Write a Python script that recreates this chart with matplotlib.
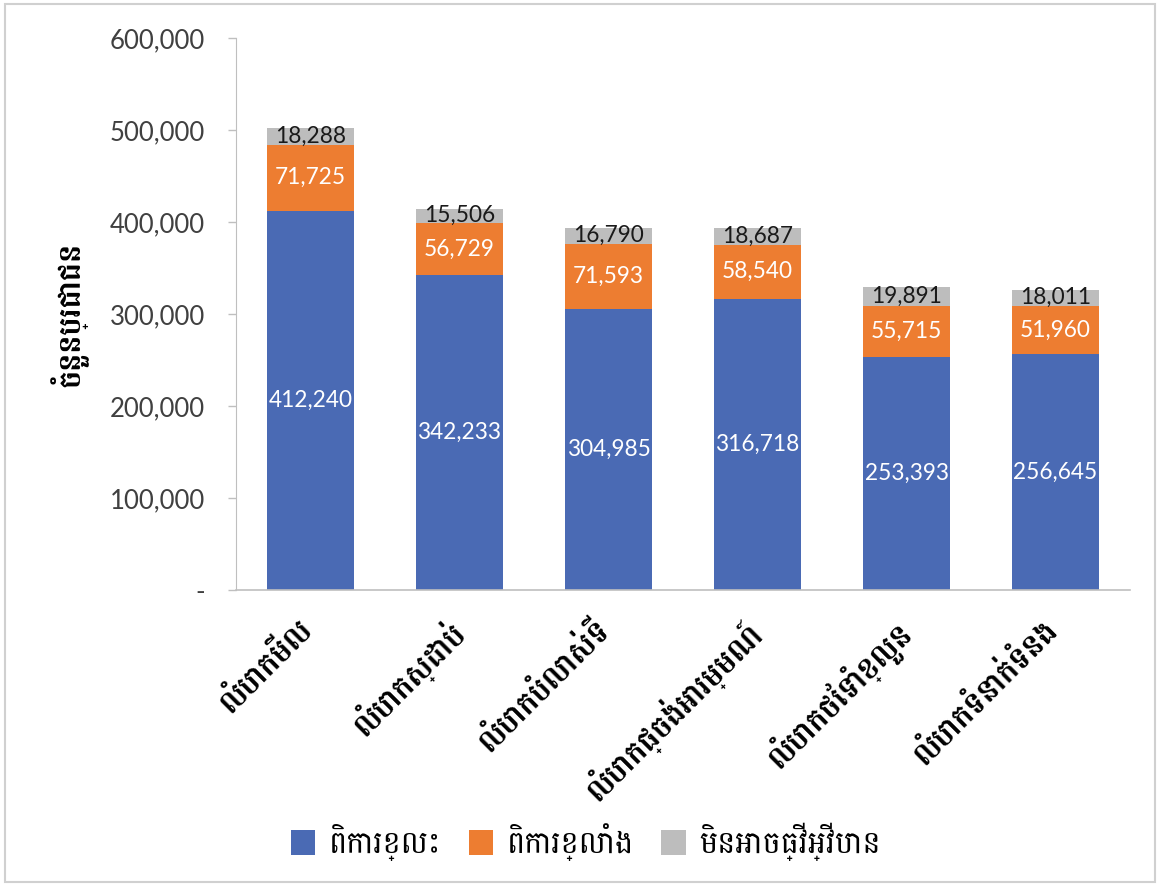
import matplotlib
matplotlib.use("Agg")
import matplotlib.pyplot as plt
import matplotlib.transforms as mtransforms
from matplotlib.patches import Rectangle
from matplotlib.ticker import FuncFormatter

categories = ["លំបាកមើល", "លំបាកស្ដាប់", "លំបាកបំលាស់ទី",
              "លំបាកផ្ចង់អារម្មណ៍", "លំបាកថែទាំខ្លួន", "លំបាកទំនាក់ទំនង"]
some = [412240, 342233, 304985, 316718, 253393, 256645]
severe = [71725, 56729, 71593, 58540, 55715, 51960]
cannot = [18288, 15506, 16790, 18687, 19891, 18011]
series_names = ["ពិការខ្លះ", "ពិការខ្លាំង", "មិនអាចធ្វើអ្វីបាន"]
y_label = "ចំនួនប្រជាជន"
y_ticks = [0, 100000, 200000, 300000, 400000, 500000, 600000]

num_family = ["Lato", "DejaVu Sans"]
kh_family = ["Battambang", "DejaVu Sans"]
plt.rcParams["font.family"] = num_family

colors = ["#4A6AB4", "#ED7D31", "#BDBDBD"]
axis_gray = "#BFBFBF"

fig = plt.figure(figsize=(11.6, 8.86), dpi=100)
fig.patches.append(Rectangle((0.004, 0.004), 0.992, 0.992, transform=fig.transFigure,
                             fill=False, edgecolor="#D0D0D0", linewidth=1.5))
ax = fig.add_axes([236 / 1160, 1 - 590 / 886, (1130 - 236) / 1160, (590 - 38) / 886])

x = list(range(len(categories)))
w = 0.58
b1 = ax.bar(x, some, w, color=colors[0], label=series_names[0])
b2 = ax.bar(x, severe, w, bottom=some, color=colors[1], label=series_names[1])
base3 = [a + b for a, b in zip(some, severe)]
b3 = ax.bar(x, cannot, w, bottom=base3, color=colors[2], label=series_names[2])

fmt = lambda v: f"{v:,}"
for i in x:
    ax.text(i, some[i] / 2, fmt(some[i]), ha="center", va="center",
            color="white", fontsize=16.3)
    ax.text(i, some[i] + severe[i] / 2, fmt(severe[i]), ha="center", va="center",
            color="white", fontsize=16.3)
    ax.text(i, base3[i] + cannot[i] / 2, fmt(cannot[i]), ha="center", va="center",
            color="#1A1A1A", fontsize=16.3)

ax.set_xlim(-0.5, len(categories) - 0.5)
ax.set_ylim(0, 600000)
ax.set_yticks(y_ticks)
ax.yaxis.set_major_formatter(FuncFormatter(lambda v, p: "-" if v == 0 else f"{int(v):,}"))
ax.tick_params(axis="y", labelsize=18.5, colors=axis_gray, labelcolor="#404040",
               length=6, width=1, pad=16.5)
ax.tick_params(axis="x", length=0, pad=12)
for s in ["top", "right"]:
    ax.spines[s].set_visible(False)
ax.spines["left"].set_color(axis_gray)
ax.spines["bottom"].set_color(axis_gray)
ax.spines["bottom"].set_linewidth(1.2)

ax.set_xticks(x)
ax.set_xticklabels(categories, rotation=45, ha="right", rotation_mode="anchor",
                   fontsize=22, fontweight="bold", family=kh_family, color="#000000")
# nudge the slanted labels so their upper end sits under the bar centre
shift = mtransforms.ScaledTranslation(-14 / 100, -7 / 100, fig.dpi_scale_trans)
for lbl in ax.get_xticklabels():
    lbl.set_transform(lbl.get_transform() + shift)

ax.set_ylabel(y_label, fontsize=22, fontweight="bold", family=kh_family)
ax.yaxis.set_label_coords(-0.165, 0.5)

fig.legend(handles=[b1, b2, b3], labels=series_names, loc="center",
           bbox_to_anchor=(0.505, 1 - 842 / 886), ncol=3, frameon=False,
           prop={"family": kh_family, "size": 22}, handlelength=0.8,
           handleheight=0.9, columnspacing=0.9, handletextpad=0.45)

fig.savefig("out.png", dpi=100)
